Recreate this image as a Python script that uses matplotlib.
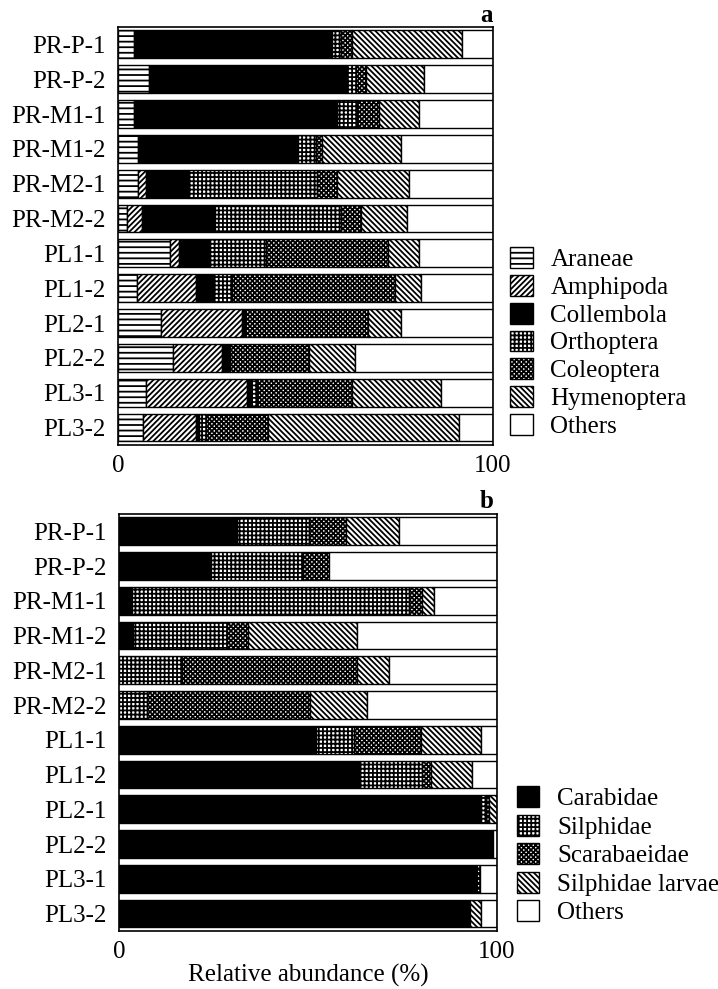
import matplotlib.pyplot as plt
import numpy as np
from matplotlib.patches import Patch

plt.rcParams['font.family'] = ['Liberation Serif', 'DejaVu Serif']
plt.rcParams['hatch.linewidth'] = 1.3

sites = ['PR-P-1', 'PR-P-2', 'PR-M1-1', 'PR-M1-2', 'PR-M2-1', 'PR-M2-2',
         'PL1-1', 'PL1-2', 'PL2-1', 'PL2-2', 'PL3-1', 'PL3-2']

# (a) relative abundance (%) of arthropod groups
araneae     = [4.4, 8.3, 4.4, 5.4, 5.4, 2.3, 13.9, 5.0, 11.5, 14.8, 7.6, 6.7]
amphipoda   = [0, 0, 0, 0, 2.2, 4.0, 2.4, 15.7, 21.7, 13.0, 26.9, 14.1]
collembola  = [52.6, 52.5, 53.9, 42.7, 11.0, 19.7, 8.0, 5.0, 0.7, 2.1, 1.1, 0.9]
orthoptera  = [2.4, 2.7, 5.5, 4.6, 34.4, 33.4, 15.3, 4.6, 0, 0, 1.4, 1.9]
coleoptera  = [2.9, 2.6, 5.9, 1.8, 5.3, 5.3, 32.5, 43.6, 32.9, 21.0, 25.3, 16.3]
hymenoptera = [29.5, 15.5, 10.7, 20.9, 19.4, 12.5, 8.3, 6.8, 8.8, 12.4, 23.8, 51.0]
others_a    = [8.2, 18.4, 19.6, 24.6, 22.3, 22.8, 19.6, 19.3, 24.4, 36.7, 13.9, 9.1]

# (b) relative abundance (%) of coleopteran families
carabidae    = [31.1, 24.3, 3.4, 3.6, 0, 0, 52.1, 63.8, 95.7, 99.0, 94.4, 92.9]
silphidae    = [19.2, 24.5, 73.3, 25.1, 16.8, 7.3, 10.2, 16.4, 1.4, 0, 0, 0]
scarabaeidae = [9.8, 6.8, 3.4, 5.3, 46.1, 43.2, 17.5, 2.3, 0.9, 0, 1.1, 0]
silph_larvae = [14.0, 0, 3.2, 28.9, 8.4, 15.2, 16.0, 10.9, 2.0, 0, 0, 2.9]
others_b     = [25.9, 44.4, 16.7, 37.1, 28.7, 34.3, 4.2, 6.6, 0, 1.0, 4.5, 4.2]

series_a = [('Araneae', araneae, 'white', '---'),
            ('Amphipoda', amphipoda, 'white', '//////'),
            ('Collembola', collembola, 'black', None),
            ('Orthoptera', orthoptera, 'white', '++++'),
            ('Coleoptera', coleoptera, 'white', 'xxxxxxx'),
            ('Hymenoptera', hymenoptera, 'white', '\\\\\\\\\\\\'),
            ('Others', others_a, 'white', None)]

series_b = [('Carabidae', carabidae, 'black', None),
            ('Silphidae', silphidae, 'white', '++++'),
            ('Scarabaeidae', scarabaeidae, 'white', 'xxxxxxx'),
            ('Silphidae larvae', silph_larvae, 'white', '\\\\\\\\\\\\'),
            ('Others', others_b, 'white', None)]

fig = plt.figure(figsize=(7.18, 9.89), dpi=100)
ax_a = fig.add_axes([0.1643, 0.5501, 0.5223, 0.4226])
ax_b = fig.add_axes([0.1657, 0.0587, 0.5265, 0.4216])

fs = 18


def stacked(ax, series):
    y = np.arange(len(sites))
    left = np.zeros(len(sites))
    for name, vals, fc, hatch in series:
        vals = np.array(vals)
        lw = [1.0 if v > 0 else 0 for v in vals]
        ax.barh(y, vals, left=left, height=0.8, color=fc,
                edgecolor='black', linewidth=lw, hatch=hatch)
        left = left + vals
    ax.set_ylim(len(sites) - 0.5, -0.5)
    ax.set_xlim(0, 100)
    ax.set_yticks(y)
    ax.set_yticklabels(sites, fontsize=fs)
    ax.set_xticks([0, 100])
    ax.set_xticklabels(['0', '100'], fontsize=fs)
    ax.tick_params(length=0, pad=9)
    ax.tick_params(axis='x', pad=7)
    for sp in ax.spines.values():
        sp.set_linewidth(1.2)


stacked(ax_a, series_a)
stacked(ax_b, series_b)
ax_b.set_xlabel('Relative abundance (%)', fontsize=fs, labelpad=1)

leg_a = [Patch(facecolor=fc, edgecolor='black', hatch=h, linewidth=1.0)
         for _, _, fc, h in series_a]
leg_b = [Patch(facecolor=fc, edgecolor='black', hatch=h, linewidth=1.0)
         for _, _, fc, h in series_b]

fig.legend(leg_a, [s[0] for s in series_a], loc='upper left',
           bbox_to_anchor=(0.711, 0.750), frameon=False, fontsize=fs,
           handlelength=0.9, handleheight=0.9, handletextpad=0.7,
           labelspacing=0.15, borderpad=0, borderaxespad=0)
fig.legend(leg_b, [s[0] for s in series_b], loc='upper left',
           bbox_to_anchor=(0.72, 0.205), frameon=False, fontsize=fs,
           handlelength=0.9, handleheight=0.9, handletextpad=0.7,
           labelspacing=0.18, borderpad=0, borderaxespad=0)

fig.text(0.678, 0.996, 'a', fontsize=fs, fontweight='bold', ha='center', va='top')
fig.text(0.678, 0.505, 'b', fontsize=fs, fontweight='bold', ha='center', va='top')

fig.savefig('out.png', dpi=100)
